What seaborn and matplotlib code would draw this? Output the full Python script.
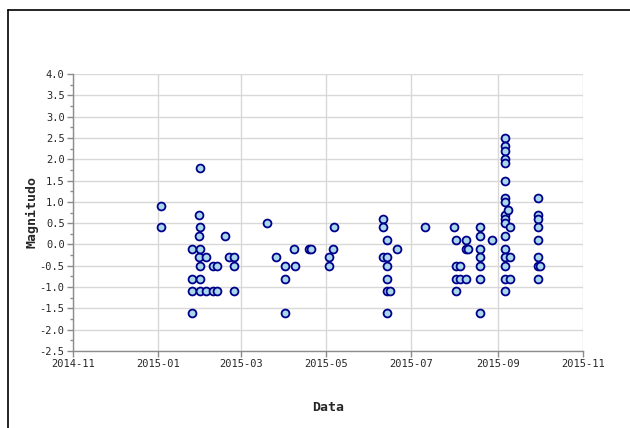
import matplotlib
matplotlib.use("Agg")
import matplotlib.pyplot as plt
import matplotlib.dates as mdates
from matplotlib.lines import Line2D
from matplotlib.ticker import MultipleLocator
import pandas as pd
import seaborn as sns

# event dates (one entry per point) and magnitudes
dates = (
    ["2015-01-03"] * 2 + ["2015-01-25"] * 4 + ["2015-01-30"] * 3 + ["2015-01-31"] * 6
    + ["2015-02-04"] * 2 + ["2015-02-09"] * 2 + ["2015-02-12"] * 2 + ["2015-02-18"]
    + ["2015-02-21"] + ["2015-02-24"] * 3
    + ["2015-03-20", "2015-03-26"] + ["2015-04-02"] * 3 + ["2015-04-08", "2015-04-09",
                                                          "2015-04-19", "2015-04-20"]
    + ["2015-05-03"] * 2 + ["2015-05-06", "2015-05-07"]
    + ["2015-06-11"] * 3 + ["2015-06-14"] * 6 + ["2015-06-16", "2015-06-21", "2015-07-11"]
    + ["2015-08-01"] + ["2015-08-02"] * 4 + ["2015-08-05"] * 2 + ["2015-08-09"] * 3
    + ["2015-08-11"] + ["2015-08-19"] * 7 + ["2015-08-28"]
    + ["2015-09-06"] * 17 + ["2015-09-08"] + ["2015-09-10"] * 3
    + ["2015-09-30"] * 8 + ["2015-10-01"]
)
magnitudes = (
    [0.9, 0.4] + [-0.1, -0.8, -1.1, -1.6] + [0.7, 0.2, -0.3] + [1.8, 0.4, -0.1, -0.5, -0.8, -1.1]
    + [-0.3, -1.1] + [-0.5, -1.1] + [-0.5, -1.1] + [0.2]
    + [-0.3] + [-0.3, -0.5, -1.1]
    + [0.5, -0.3] + [-0.5, -0.8, -1.6] + [-0.1, -0.5, -0.1, -0.1]
    + [-0.3, -0.5] + [-0.1, 0.4]
    + [0.6, 0.4, -0.3] + [0.1, -0.3, -0.5, -0.8, -1.1, -1.6] + [-1.1, -0.1, 0.4]
    + [0.4] + [0.1, -0.5, -0.8, -1.1] + [-0.5, -0.8] + [0.1, -0.1, -0.8]
    + [-0.1] + [0.4, 0.2, -0.1, -0.3, -0.5, -0.8, -1.6] + [0.1]
    + [2.5, 2.3, 2.2, 2.0, 1.9, 1.5, 1.1, 1.0, 0.7, 0.6, 0.5, 0.2, -0.1, -0.3, -0.5, -0.8, -1.1]
    + [0.8] + [0.4, -0.3, -0.8]
    + [1.1, 0.7, 0.6, 0.4, 0.1, -0.3, -0.5, -0.8] + [-0.5]
)

df = pd.DataFrame({"Data": pd.to_datetime(dates), "Magnitudo": magnitudes})

sns.set_style("white")
plt.rcParams['font.family'] = ['DejaVu Sans Mono', 'DejaVu Sans']

fig = plt.figure(figsize=(6.3, 4.28), dpi=100)
ax = fig.add_axes([73 / 630, 1 - 351 / 428, 510 / 630, 277 / 428])

sns.scatterplot(data=df, x="Data", y="Magnitudo", ax=ax, s=32,
                color="#a8d8ea", edgecolor="#00008b", linewidth=1.3, zorder=3)

ax.set_xlim(pd.Timestamp("2014-11-01"), pd.Timestamp("2015-11-01"))
ax.set_ylim(-2.5, 4.0)
ax.xaxis.set_major_locator(mdates.MonthLocator(bymonth=[1, 3, 5, 7, 9, 11]))
ax.xaxis.set_major_formatter(mdates.DateFormatter("%Y-%m"))
ax.yaxis.set_major_locator(MultipleLocator(0.5))
ax.yaxis.set_minor_locator(MultipleLocator(0.25))
ax.yaxis.set_major_formatter(matplotlib.ticker.FormatStrFormatter("%.1f"))

ax.grid(True, which="major", color="#d8d8d8", linewidth=1)
for s in ["top", "right"]:
    ax.spines[s].set_visible(False)
for s in ["left", "bottom"]:
    ax.spines[s].set_color("#8c8c8c")
    ax.spines[s].set_linewidth(1)
ax.tick_params(axis="both", which="major", direction="out", length=4, width=1,
               color="#8c8c8c", labelsize=7.5, pad=2, left=True, bottom=True)
ax.tick_params(axis="y", which="minor", direction="out", length=2, width=1,
               color="#8c8c8c", left=True)

ax.set_xlabel("Data", fontsize=9.5, fontweight="bold", labelpad=23)
ax.set_ylabel("Magnitudo", fontsize=9.5, fontweight="bold", labelpad=1)

# frame lines along top and left of the canvas
fig.add_artist(Line2D([8 / 630, 8 / 630], [0, 1 - 10 / 428], color="black", linewidth=1.2))
fig.add_artist(Line2D([8 / 630, 1], [1 - 10 / 428, 1 - 10 / 428], color="black", linewidth=1.2))

fig.savefig("out.png", dpi=100)
